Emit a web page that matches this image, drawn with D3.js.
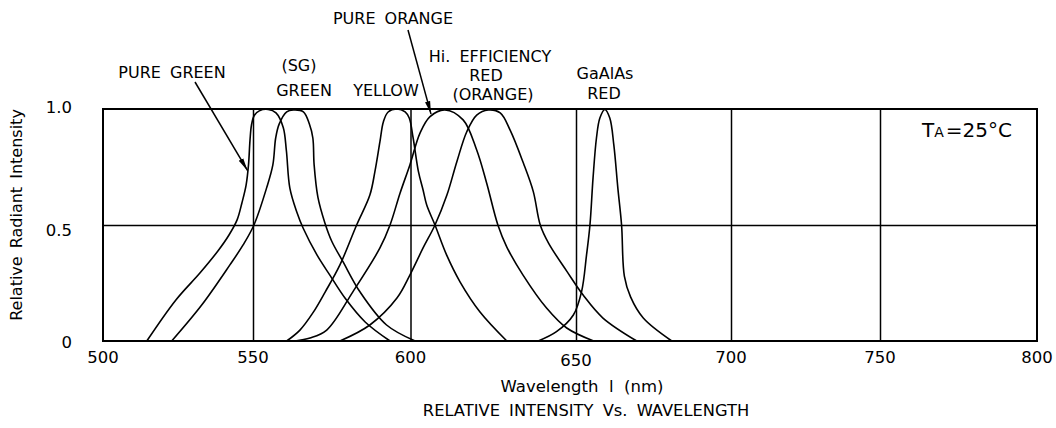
<!DOCTYPE html>
<html><head><meta charset="utf-8">
<script src="https://cdn.jsdelivr.net/npm/d3@7"></script>
<style>
body{margin:0;background:#fff;}
svg{display:block;}
text{font-family:"DejaVu Sans",sans-serif;fill:#000;}
</style></head><body><svg id="c" width="1056" height="428"></svg>
<script>
// ---------- data ----------
const xTicks = [500, 550, 600, 650, 700, 750, 800];
const xTickLabels = ["500", "550", "600", "650", "700", "750", "800"];
const yTicks = [0, 0.5, 1.0];
const yTickLabels = ["0", "0.5", "1.0"];

// [wavelength nm, relative intensity]
const pureGreen = [[514.6,0],[524.3,0.177],[532.3,0.293],[538.3,0.388],[542.0,0.457],[544.7,0.522],[546.3,0.595],[547.7,0.672],[548.5,0.759],[549.0,0.866],[549.5,0.931],[550.4,0.972],[552.0,0.992],[554.8,0.998],[557.3,0.983],[559.6,0.92],[560.6,0.82],[561.7,0.659],[563.9,0.556],[565.9,0.487],[570.3,0.371],[574.4,0.284],[579.2,0.185],[585.6,0.082],[593.5,0]];
const sgGreen = [[522.9,0],[532.9,0.155],[542.3,0.328],[546.7,0.414],[550.3,0.5],[554.3,0.659],[556.3,0.759],[557.2,0.875],[558.3,0.935],[560.7,0.988],[562.8,0.996],[566.0,0.988],[567.9,0.935],[569.0,0.875],[569.4,0.76],[570.6,0.62],[572.8,0.51],[575.0,0.43],[578.6,0.341],[584.0,0.211],[592.4,0.069],[601.4,0]];
const yellow = [[560.7,0],[564.9,0.047],[569.0,0.121],[572.9,0.211],[577.6,0.328],[582.9,0.5],[587.1,0.629],[588.7,0.73],[590.3,0.859],[591.4,0.945],[592.9,0.987],[595.6,1.0],[598.3,0.988],[599.6,0.961],[600.8,0.875],[602.4,0.73],[603.8,0.651],[604.9,0.586],[607.4,0.5],[610.9,0.371],[615.0,0.254],[621.0,0.125],[629.1,0]];
const pureOrange = [[563.3,0],[568.1,0.013],[573.4,0.047],[581.7,0.212],[590.3,0.401],[593.5,0.5],[596.7,0.638],[599.8,0.759],[602.9,0.897],[605.9,0.967],[610.4,0.996],[615.9,0.953],[620.0,0.823],[623.0,0.681],[626.4,0.5],[629.1,0.405],[634.0,0.284],[641.1,0.142],[647.2,0.056],[655.7,0]];
const hiEffRed = [[577.6,0],[587.1,0.069],[595.7,0.185],[599.8,0.284],[603.8,0.401],[607.4,0.5],[611.0,0.629],[614.0,0.773],[617.0,0.902],[620.0,0.974],[623.5,0.996],[627.1,0.983],[630.1,0.909],[634.1,0.767],[637.1,0.644],[639.2,0.5],[641.7,0.422],[647.3,0.299],[652.3,0.198],[658.7,0.099],[669.6,0]];
const gaAlAsRed = [[638.6,0],[644.1,0.04],[649.2,0.112],[651.8,0.213],[653.4,0.371],[654.5,0.5],[655.5,0.703],[656.6,0.875],[657.7,0.961],[659.3,0.998],[660.9,0.961],[662.2,0.845],[663.5,0.659],[664.7,0.5],[665.6,0.28],[667.6,0.19],[671.7,0.099],[680.9,0]];
const seriesList = [pureGreen, sgGreen, yellow, pureOrange, hiEffRed, gaAlAsRed];

// arrow tips in data space [wavelength, intensity]
const greenArrowTip = [548.2, 0.734];
const orangeArrowTip = [606.2, 0.978];

// ---------- layout ----------
const svg = d3.select("#c");
svg.append("rect").attr("width",1056).attr("height",428).attr("fill","#fff");

const x = d3.scaleLinear().domain(xTicks).range([103, 253, 410.5, 576, 731, 880, 1037]);
const y = d3.scaleLinear().domain([0, 1]).range([341, 109]);

const g = svg.append("g");

// vertical gridlines
const gx = g.append("g").attr("transform", `translate(0,${y(0)})`)
  .call(d3.axisBottom(x).tickValues(xTicks.slice(1, -1)).tickSize(-(y(0) - y(1))).tickFormat(""));
gx.select(".domain").remove();
gx.selectAll("line").attr("stroke", "#000").attr("stroke-width", 1.5);

// horizontal gridline
const gy = g.append("g").attr("transform", `translate(${x(500)},0)`)
  .call(d3.axisLeft(y).tickValues([0.5]).tickSize(-(x(800) - x(500))).tickFormat(""));
gy.select(".domain").remove();
gy.selectAll("line").attr("stroke", "#000").attr("stroke-width", 1.5);

// frame
g.append("rect").attr("x", x(500)).attr("y", y(1)).attr("width", x(800) - x(500)).attr("height", y(0) - y(1))
  .attr("fill", "none").attr("stroke", "#000").attr("stroke-width", 2);

// curves
const line = d3.line().x(d => x(d[0])).y(d => y(Math.max(0, d[1]))).curve(d3.curveCatmullRom.alpha(0.5));
g.selectAll("path.s").data(seriesList).enter().append("path").attr("class", "s")
  .attr("d", line).attr("fill", "none").attr("stroke", "#000").attr("stroke-width", 1.6)
  .attr("stroke-linejoin", "round");

// x tick labels
const xLabelDy = {650: 3};
g.selectAll("text.xt").data(xTicks).enter().append("text").attr("class", "xt")
  .attr("x", d => x(d)).attr("y", d => 363 + (xLabelDy[d] || 0))
  .attr("text-anchor", "middle").attr("font-size", 16.5)
  .text((d, i) => xTickLabels[i]);

// y tick labels
const yLabelDy = [7, 11, 4];
g.selectAll("text.yt").data(yTicks).enter().append("text").attr("class", "yt")
  .attr("x", 72).attr("y", (d, i) => y(d) + yLabelDy[i])
  .attr("text-anchor", "end").attr("font-size", 16.5)
  .text((d, i) => yTickLabels[i]);

// axis titles
svg.append("text").attr("transform", "translate(22,215) rotate(-90)")
  .attr("text-anchor", "middle").attr("font-size", 16).attr("word-spacing", 3)
  .text("Relative Radiant Intensity");
svg.append("text").attr("x", 582).attr("y", 392).attr("text-anchor", "middle")
  .attr("font-size", 16.5).style("white-space", "pre")
  .text("Wavelength  l  (nm)");
svg.append("text").attr("x", 586).attr("y", 416).attr("text-anchor", "middle")
  .attr("font-size", 16.3).attr("word-spacing", 4)
  .text("RELATIVE INTENSITY Vs. WAVELENGTH");

// annotation labels
const labelLayout = [
  {t: "PURE ORANGE", x: 393, y: 24},
  {t: "PURE GREEN", x: 172, y: 78},
  {t: "(SG)", x: 299, y: 71},
  {t: "GREEN", x: 304, y: 96},
  {t: "YELLOW", x: 386, y: 96},
  {t: "Hi. EFFICIENCY", x: 490, y: 62},
  {t: "RED", x: 486, y: 81},
  {t: "(ORANGE)", x: 493, y: 100},
  {t: "GaAlAs", x: 605, y: 79},
  {t: "RED", x: 604, y: 99}
];
svg.selectAll("text.lab").data(labelLayout).enter().append("text").attr("class", "lab")
  .attr("x", d => d.x).attr("y", d => d.y).attr("text-anchor", "middle")
  .attr("font-size", 16).attr("word-spacing", 4).text(d => d.t);

// arrows
const defs = svg.append("defs");
defs.append("marker").attr("id", "ah").attr("markerUnits", "userSpaceOnUse")
  .attr("viewBox", "0 -4 14 8").attr("refX", 13).attr("refY", 0)
  .attr("markerWidth", 14).attr("markerHeight", 8).attr("orient", "auto")
  .append("path").attr("d", "M0,-2.6L13,0L0,2.6Z").attr("fill", "#000");
const arrows = [
  {from: [195, 82], to: greenArrowTip},
  {from: [408, 30], to: orangeArrowTip}
];
svg.selectAll("line.ar").data(arrows).enter().append("line").attr("class", "ar")
  .attr("x1", d => d.from[0]).attr("y1", d => d.from[1])
  .attr("x2", d => x(d.to[0])).attr("y2", d => y(d.to[1]))
  .attr("stroke", "#000").attr("stroke-width", 1.5).attr("marker-end", "url(#ah)");

// TA = 25°C
const ta = svg.append("text").attr("x", 922).attr("y", 137).attr("font-size", 20);
ta.append("tspan").text("T");
ta.append("tspan").attr("font-size", 14).text("A");
ta.append("tspan").attr("dx", 2).text("=25°C");
</script></body></html>
